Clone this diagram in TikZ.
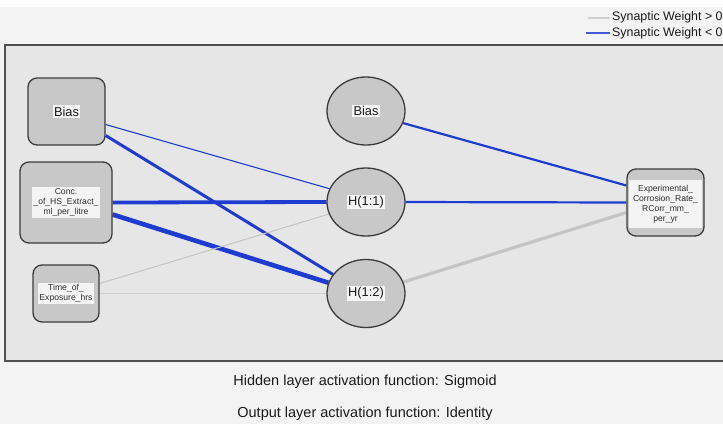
\documentclass[tikz,border=0pt]{standalone}
\usepackage{fontspec}
\setmainfont{Liberation Sans}
\usetikzlibrary{shapes.geometric}
\definecolor{outerbg}{HTML}{F3F3F3}
\definecolor{panelbg}{HTML}{E6E6E6}
\definecolor{panelline}{HTML}{505050}
\definecolor{nodefill}{HTML}{C8C8C8}
\definecolor{nodeborder}{HTML}{3C3C3C}
\definecolor{labfill}{HTML}{F4F4F4}
\definecolor{textcol}{HTML}{1A1A1A}
\definecolor{smallcol}{HTML}{2E2E2E}
\definecolor{wblue}{HTML}{1E3CD2}
\definecolor{wgray}{HTML}{C4C4C4}
\definecolor{wgraylight}{HTML}{D0D0D0}
\pgfdeclarelayer{bg}
\pgfdeclarelayer{edges}
\pgfsetlayers{bg,edges,main}
\begin{document}
\begin{tikzpicture}[x=1pt,y=-1pt,
  inbox/.style={draw=nodeborder, line width=1.3pt, fill=nodefill, rounded corners=9pt, inner sep=0pt},
  neuron/.style={ellipse, draw=nodeborder, line width=1.3pt, fill=nodefill, minimum width=78pt, minimum height=68pt, inner sep=0pt},
  lab/.style={fill=labfill, inner sep=1.5pt, text=textcol, align=center},
  smalltxt/.style={font=\fontsize{8.6}{10}\selectfont, text=smallcol},
  bigtxt/.style={font=\fontsize{12.8}{14}\selectfont},
  negwt/.style={draw=wblue},
  poswt/.style={draw=wgray},
  legtext/.style={anchor=west, text=textcol, inner sep=0pt, font=\fontsize{12.4}{14}\selectfont},
  foot/.style={anchor=base, text=textcol, inner sep=0pt, font=\fontsize{14.5}{16}\selectfont}
]
\clip (0,0) rectangle (723,424);
\begin{pgfonlayer}{bg}
  \fill[white] (0,0) rectangle (723,424);
  \fill[outerbg] (0,7) rectangle (723,424);
  \fill[panelbg] (5,45) rectangle (724,361);
  \draw[panelline, line width=1.3pt] (724,45) -- (5,45) -- (5,361) -- (724,361);
\end{pgfonlayer}

% legend
\coordinate (lg1a) at (588,17.5);
\coordinate (lg1b) at (610,17.5);
\coordinate (lg2a) at (586,33);
\coordinate (lg2b) at (610,33);
\draw[wgraylight, line width=2pt] (lg1a) -- (lg1b);
\draw[wblue!85!white, line width=2pt] (lg2a) -- (lg2b);
\node[legtext] (leg1) at (612,17.5) {Synaptic Weight > 0};
\node[legtext] (leg2) at (612,33) {Synaptic Weight < 0};

% input layer
\node[inbox, minimum width=77pt, minimum height=67pt] (inbias) at (66.5,111.5) {};
\node[lab, bigtxt] (inbiasl) at (inbias) {Bias};
\node[inbox, minimum width=92pt, minimum height=81pt] (conc) at (66,202.5) {};
\node[lab, smalltxt] (concl) at (conc) {Conc.\\\_of\_HS\_Extract\_\\ml\_per\_litre};
\node[inbox, minimum width=66pt, minimum height=57pt] (time) at (66,293.5) {};
\node[lab, smalltxt] (timel) at (time) {Time\_of\_\\Exposure\_hrs};

% hidden layer
\node[neuron] (hbias) at (366,111) {};
\node[lab, bigtxt] (hbiasl) at (hbias) {Bias};
\node[neuron] (h1) at (366,202) {};
\node[lab, bigtxt] (h1l) at (h1) {H(1:1)};
\node[neuron] (h2) at (366,293.5) {};
\node[lab, bigtxt] (h2l) at (h2) {H(1:2)};

% output layer
\node[inbox, minimum width=77pt, minimum height=67pt] (out) at (665.5,202.5) {};
\node[lab, smalltxt, minimum width=73pt, minimum height=48pt, inner sep=0.5pt] (outl) at (665.5,204) {Experimental\_\\Corrosion\_Rate\_\\RCorr\_mm\_\\per\_yr};

% connectors
\begin{pgfonlayer}{edges}
  \draw[negwt, line width=1.1pt] ([yshift=-13pt]inbias.east) -- (h1.160);
  \draw[negwt, line width=3pt] ([yshift=-24pt]inbias.east) -- (h2.150);
  \draw[negwt, line width=3.8pt] (conc.east) -- (h1.west);
  \draw[negwt, line width=4.6pt] ([yshift=-12pt]conc.east) -- (h2.164);
  \draw[poswt, line width=1pt] ([yshift=10pt]time.east) -- (h1.198);
  \draw[wgraylight, line width=1pt] (time.east) -- (h2.west);
  \draw[negwt, line width=2.2pt] (hbias.-18) -- ([yshift=17pt]out.west);
  \draw[negwt, line width=2.2pt] (h1.east) -- (out.west);
  \draw[poswt, line width=3.2pt] (h2.17) -- ([yshift=-10pt]out.west);
\end{pgfonlayer}

% footer
\node[foot] (f1) at (365,385) {Hidden layer activation function: Sigmoid};
\node[foot] (f2) at (365,417) {Output layer activation function: Identity};
\end{tikzpicture}
\end{document}
